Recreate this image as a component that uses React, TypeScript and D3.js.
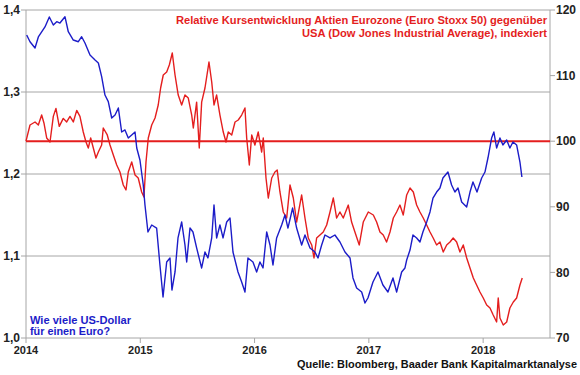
import React from 'react';
import * as d3 from 'd3';

const yearTicks = [2014, 2015, 2016, 2017, 2018];
const leftTicks = [1.0, 1.1, 1.2, 1.3, 1.4];
const rightTicks = [70, 80, 90, 100, 110, 120];

// EUR/USD (left axis) – time in decimal years
const usdTime = [
  2014.006, 2014.035, 2014.079, 2014.108, 2014.137, 2014.166, 2014.204, 2014.239, 2014.269, 2014.297,
  2014.341, 2014.370, 2014.414, 2014.458, 2014.487, 2014.516, 2014.560, 2014.604, 2014.633, 2014.662,
  2014.691, 2014.720, 2014.750, 2014.779, 2014.808, 2014.837, 2014.866, 2014.895, 2014.925, 2014.954,
  2014.969, 2014.997, 2015.026, 2015.041, 2015.067, 2015.100, 2015.143, 2015.172, 2015.199, 2015.231,
  2015.260, 2015.277, 2015.304, 2015.330, 2015.362, 2015.391, 2015.406, 2015.435, 2015.461, 2015.493,
  2015.537, 2015.566, 2015.592, 2015.625, 2015.645, 2015.668, 2015.697, 2015.724, 2015.756, 2015.785,
  2015.811, 2015.855, 2015.887, 2015.916, 2015.942, 2015.986, 2016.018, 2016.047, 2016.074, 2016.106,
  2016.135, 2016.161, 2016.193, 2016.237, 2016.266, 2016.292, 2016.333, 2016.368, 2016.412, 2016.441,
  2016.485, 2016.528, 2016.555, 2016.587, 2016.616, 2016.660, 2016.703, 2016.747, 2016.791, 2016.835,
  2016.861, 2016.893, 2016.937, 2016.966, 2016.992, 2017.036, 2017.080, 2017.123, 2017.167, 2017.211,
  2017.243, 2017.287, 2017.316, 2017.331, 2017.360, 2017.386, 2017.418, 2017.447, 2017.473, 2017.506,
  2017.535, 2017.561, 2017.593, 2017.622, 2017.648, 2017.692, 2017.724, 2017.753, 2017.780, 2017.812,
  2017.856, 2017.885, 2017.911, 2017.946, 2017.987, 2018.016, 2018.042, 2018.074, 2018.094, 2018.118,
  2018.147, 2018.173, 2018.206, 2018.234, 2018.261, 2018.293, 2018.322, 2018.339,
];
const usdValue = [
  1.3695, 1.3613, 1.3537, 1.3671, 1.3732, 1.3793, 1.3915, 1.3817, 1.3857, 1.3841,
  1.3918, 1.3735, 1.3634, 1.3613, 1.3674, 1.3598, 1.3451, 1.3390, 1.3354, 1.3187,
  1.2963, 1.2882, 1.2683, 1.2720, 1.2805, 1.2512, 1.2537, 1.2439, 1.2476, 1.2512,
  1.2317, 1.2171, 1.1866, 1.1622, 1.1293, 1.1378, 1.1341, 1.0890, 1.0500, 1.0927,
  1.0976, 1.0585, 1.0805, 1.1220, 1.1415, 1.1134, 1.0927, 1.1341, 1.1293, 1.1098,
  1.0854, 1.1049, 1.0976, 1.1220, 1.1622, 1.1220, 1.1378, 1.1220, 1.1415, 1.1463,
  1.1049, 1.0805, 1.0683, 1.0561, 1.0976, 1.0927, 1.0805, 1.0927, 1.0854, 1.1293,
  1.1134, 1.0890, 1.1220, 1.1378, 1.1500, 1.1341, 1.1585, 1.1341, 1.1134, 1.1256,
  1.1098, 1.1049, 1.0976, 1.1134, 1.1256, 1.1220, 1.1256, 1.1171, 1.1049, 1.0976,
  1.0732, 1.0610, 1.0561, 1.0427, 1.0488, 1.0683, 1.0805, 1.0646, 1.0561, 1.0732,
  1.0561, 1.0805, 1.0854, 1.0951, 1.1073, 1.1256, 1.1220, 1.1171, 1.1293, 1.1415,
  1.1537, 1.1707, 1.1780, 1.1829, 1.1951, 1.2024, 1.1866, 1.1780, 1.1829, 1.1659,
  1.1598, 1.1780, 1.1902, 1.1780, 1.1951, 1.2024, 1.2195, 1.2439, 1.2512, 1.2317,
  1.2439, 1.2354, 1.2415, 1.2317, 1.2390, 1.2354, 1.2146, 1.1963,
];

// Euro Stoxx 50 vs. Dow Jones, indexed (right axis)
const relTime = [
  2014.000, 2014.035, 2014.079, 2014.108, 2014.137, 2014.157, 2014.181, 2014.210, 2014.239, 2014.262,
  2014.291, 2014.326, 2014.356, 2014.385, 2014.414, 2014.444, 2014.472, 2014.501, 2014.525, 2014.545,
  2014.566, 2014.589, 2014.612, 2014.633, 2014.662, 2014.676, 2014.711, 2014.735, 2014.764, 2014.794,
  2014.822, 2014.851, 2014.875, 2014.895, 2014.925, 2014.954, 2014.982, 2015.012, 2015.032, 2015.050,
  2015.070, 2015.100, 2015.129, 2015.157, 2015.178, 2015.201, 2015.231, 2015.254, 2015.280, 2015.304,
  2015.332, 2015.362, 2015.391, 2015.420, 2015.450, 2015.464, 2015.493, 2015.516, 2015.537, 2015.566,
  2015.601, 2015.625, 2015.645, 2015.668, 2015.697, 2015.726, 2015.750, 2015.770, 2015.800, 2015.829,
  2015.857, 2015.887, 2015.916, 2015.931, 2015.954, 2015.975, 2016.003, 2016.032, 2016.062, 2016.076,
  2016.100, 2016.120, 2016.150, 2016.178, 2016.198, 2016.222, 2016.251, 2016.281, 2016.310, 2016.339,
  2016.368, 2016.412, 2016.441, 2016.470, 2016.500, 2016.520, 2016.543, 2016.572, 2016.601, 2016.631,
  2016.660, 2016.689, 2016.718, 2016.747, 2016.776, 2016.820, 2016.849, 2016.878, 2016.916, 2016.951,
  2016.995, 2017.039, 2017.068, 2017.097, 2017.126, 2017.155, 2017.185, 2017.214, 2017.243, 2017.272,
  2017.301, 2017.331, 2017.360, 2017.389, 2017.418, 2017.447, 2017.476, 2017.506, 2017.535, 2017.563,
  2017.593, 2017.622, 2017.651, 2017.681, 2017.710, 2017.738, 2017.768, 2017.797, 2017.826, 2017.856,
  2017.885, 2017.914, 2017.943, 2017.972, 2018.001, 2018.031, 2018.060, 2018.088, 2018.118, 2018.132,
  2018.147, 2018.176, 2018.206, 2018.234, 2018.264, 2018.293, 2018.322, 2018.342,
];
const relValue = [
  100.0, 102.47, 102.93, 102.47, 103.99, 102.78, 100.49, 99.88, 103.78, 105.00,
  102.26, 103.48, 102.93, 103.78, 102.93, 104.70, 103.78, 101.40, 99.88, 98.96,
  100.49, 98.96, 97.44, 98.35, 99.42, 102.01, 100.95, 99.42, 97.90, 96.37,
  95.30, 93.32, 92.56, 95.30, 96.83, 94.85, 94.39, 92.26, 91.49, 96.83,
  100.49, 102.47, 103.54, 105.52, 108.11, 110.09, 110.55, 111.62, 113.45, 110.09,
  107.04, 105.52, 107.04, 106.58, 103.99, 102.01, 105.96, 98.96, 105.96, 108.11,
  112.07, 109.02, 105.52, 107.04, 103.99, 101.40, 99.88, 101.40, 100.95, 102.93,
  103.23, 103.99, 105.06, 100.49, 96.37, 100.95, 99.42, 101.40, 98.35, 100.49,
  94.39, 91.34, 94.39, 95.30, 95.60, 92.26, 89.21, 88.29, 93.32, 91.34,
  87.68, 91.80, 88.29, 85.24, 84.18, 82.20, 85.24, 85.70, 86.16, 87.23,
  89.21, 91.34, 88.29, 89.21, 88.29, 90.27, 87.68, 86.16, 84.18, 87.68,
  89.21, 88.75, 87.68, 86.16, 85.70, 84.63, 86.16, 88.29, 89.21, 90.27,
  88.75, 91.80, 92.87, 92.26, 90.27, 89.21, 88.29, 87.23, 86.16, 85.24,
  84.18, 84.63, 83.11, 84.18, 84.63, 85.24, 84.63, 83.11, 84.18, 82.20,
  80.67, 79.15, 78.08, 77.01, 76.10, 75.03, 74.57, 73.51, 72.44, 76.10,
  73.05, 71.98, 72.44, 74.57, 75.49, 76.10, 78.08, 79.15,
];

const titleLines = [
  'Relative Kursentwicklung Aktien Eurozone (Euro Stoxx 50) gegenüber',
  'USA (Dow Jones Industrial Average), indexiert',
];
const usdLabel = ['Wie viele US-Dollar', 'für einen Euro?'];
const sourceText = 'Quelle: Bloomberg, Baader Bank Kapitalmarktanalyse';

const W = 580;
const H = 375;
const L = 26;
const R = 550;
const T = 10;
const B = 338;

const RED = '#e41e1e';
const BLUE = '#1c1cc8';
const GRID = '#a6a6a6';
const FONT = '"Liberation Sans", Arial, sans-serif';

export default function App() {
  const x = d3.scaleLinear().domain([2014, 2018.585]).range([L, R]);
  const yL = d3.scaleLinear().domain([1.0, 1.4]).range([B, T]);
  const yR = d3.scaleLinear().domain([70, 120]).range([B, T]);

  const usdData = usdTime.map((t, i) => [t, usdValue[i]] as [number, number]);
  const relData = relTime.map((t, i) => [t, relValue[i]] as [number, number]);

  const usdLine = d3.line<[number, number]>().x(d => x(d[0])).y(d => yL(d[1]));
  const relLine = d3.line<[number, number]>().x(d => x(d[0])).y(d => yR(d[1]));

  const fmtL = (v: number) => d3.format('.1f')(v).replace('.', ',');

  return (
    <svg width={W} height={H} style={{ position: 'absolute', left: 0, top: 0, background: '#fff' }}
      fontFamily={FONT} fontWeight="bold">
      <rect x={0} y={0} width={W} height={H} fill="#fff" />
      {/* grid */}
      {leftTicks.map(v => (
        <line key={'g' + v} x1={L} x2={R} y1={yL(v)} y2={yL(v)} stroke={GRID} strokeWidth={1} />
      ))}
      {/* axes */}
      <line x1={L} x2={L} y1={T} y2={B} stroke={GRID} />
      <line x1={R} x2={R} y1={T} y2={B} stroke={GRID} />
      {leftTicks.map(v => (
        <line key={'lt' + v} x1={L - 5} x2={L} y1={yL(v)} y2={yL(v)} stroke={GRID} />
      ))}
      {rightTicks.map(v => (
        <line key={'rt' + v} x1={R} x2={R + 5} y1={yR(v)} y2={yR(v)} stroke={GRID} />
      ))}
      {yearTicks.map(v => (
        <line key={'xt' + v} x1={x(v)} x2={x(v)} y1={B} y2={B + 5} stroke={GRID} />
      ))}
      {/* labels */}
      {leftTicks.map(v => (
        <text key={'ll' + v} x={L - 6} y={yL(v)} dy="0.35em" textAnchor="end" fontSize={12} fill="#222">
          {fmtL(v)}
        </text>
      ))}
      {rightTicks.map(v => (
        <text key={'rl' + v} x={R + 6} y={yR(v)} dy="0.35em" textAnchor="start" fontSize={12} fill="#222">
          {v}
        </text>
      ))}
      {yearTicks.map(v => (
        <text key={'xl' + v} x={x(v)} y={350} dy="0.35em" textAnchor="middle" fontSize={11} fill="#222">
          {v}
        </text>
      ))}
      {/* reference line */}
      <line x1={L} x2={R} y1={yR(100)} y2={yR(100)} stroke={RED} strokeWidth={2} />
      {/* series */}
      <path d={relLine(relData) || ''} fill="none" stroke={RED} strokeWidth={1.4} strokeLinejoin="round" />
      <path d={usdLine(usdData) || ''} fill="none" stroke={BLUE} strokeWidth={1.4} strokeLinejoin="round" />
      {/* title */}
      <text x={547} y={20} dy="0.35em" textAnchor="end" fontSize={11} fill={RED}
        textLength={371} lengthAdjust="spacingAndGlyphs">{titleLines[0]}</text>
      <text x={547} y={33} dy="0.35em" textAnchor="end" fontSize={11} fill={RED}
        textLength={245} lengthAdjust="spacingAndGlyphs">{titleLines[1]}</text>
      {/* usd label */}
      <text x={30} y={320} dy="0.35em" fontSize={11} fill={BLUE} textLength={101} lengthAdjust="spacingAndGlyphs">{usdLabel[0]}</text>
      <text x={30} y={331} dy="0.35em" fontSize={11} fill={BLUE} textLength={80} lengthAdjust="spacingAndGlyphs">{usdLabel[1]}</text>
      {/* source */}
      <text x={577} y={364} dy="0.35em" textAnchor="end" fontSize={11} fill="#111"
        textLength={280} lengthAdjust="spacingAndGlyphs">{sourceText}</text>
    </svg>
  );
}
